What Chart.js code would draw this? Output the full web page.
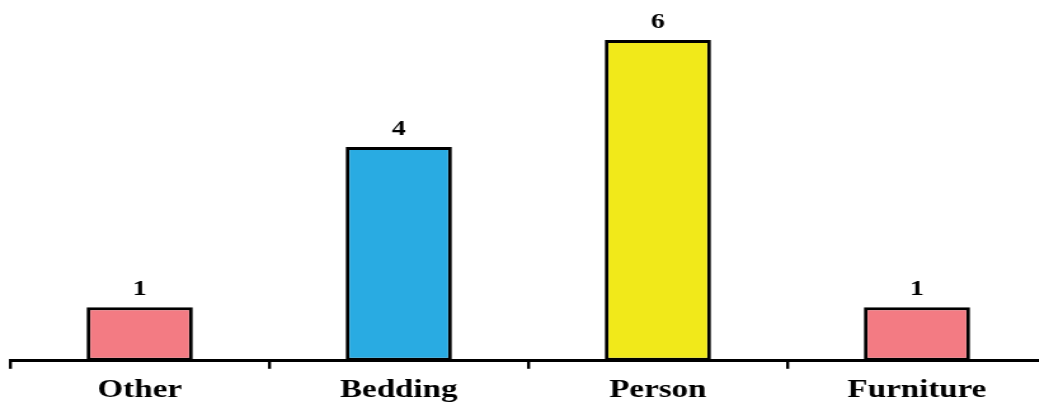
<!DOCTYPE html>
<html>
<head>
<meta charset="utf-8">
<script src="https://cdn.jsdelivr.net/npm/chart.js@4"></script>
<style>
    html, body { margin: 0; padding: 0; background: #fff; overflow: hidden; }
    /* the reference is stretched sideways, so the whole canvas is stretched too */
    #wrap { width: 824px; height: 402px; overflow: hidden; transform: scaleX(1.27); transform-origin: 0 0; }
</style>
</head>
<body>
<div id="wrap"><canvas id="mainChart" width="824" height="416"></canvas></div>
<script>
const categories = ['Other', 'Bedding', 'Person', 'Furniture']
const counts = [1, 4, 6, 1]
const barColors = ['#F37B83', '#29ABE2', '#F1E91A', '#F37B83']

const serif = "'Times New Roman', 'Liberation Serif', Times, serif"

// numbers above the bars
const valueLabels = {
    id: 'valueLabels',
    afterDatasetsDraw(chart) {
        const ctx = chart.ctx
        const meta = chart.getDatasetMeta(0)
        ctx.save()
        ctx.font = 'bold 22px ' + serif
        ctx.fillStyle = '#000'
        ctx.textAlign = 'center'
        ctx.textBaseline = 'alphabetic'
        meta.data.forEach((bar, i) => {
            ctx.fillText(String(counts[i]), bar.x, bar.y - 12)
        })
        ctx.restore()
    }
}

new Chart(document.getElementById('mainChart'), {
    type: 'bar',
    data: {
        labels: categories,
        datasets: [{
            data: counts,
            backgroundColor: barColors,
            borderColor: '#000',
            borderWidth: 3,
            borderSkipped: false,
            barPercentage: 0.41,
            categoryPercentage: 1
        }]
    },
    options: {
        responsive: false,
        animation: false,
        layout: {
            padding: { left: 8, right: 0, top: 0, bottom: 4 }
        },
        plugins: {
            legend: { display: false },
            tooltip: { enabled: false }
        },
        scales: {
            x: {
                offset: true,
                grid: {
                    offset: true,
                    drawOnChartArea: false,
                    color: '#000',
                    lineWidth: 2.4,
                    tickLength: 8
                },
                border: { display: true, color: '#000', width: 3 },
                ticks: {
                    color: '#000',
                    padding: 6,
                    font: { family: serif, size: 26, weight: 'bold' }
                }
            },
            y: {
                display: false,
                min: 0,
                max: 6.75
            }
        }
    },
    plugins: [valueLabels]
})
</script>
</body>
</html>
